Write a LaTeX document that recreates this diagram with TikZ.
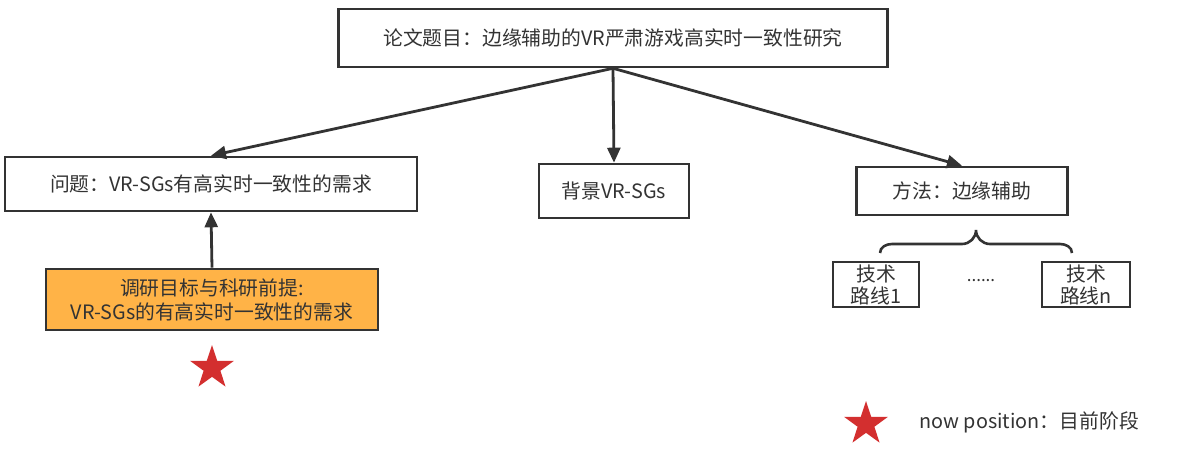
\documentclass[tikz,border=0pt]{standalone}
\usepackage{fontspec}
\setmainfont{Noto Sans CJK SC}
\usepackage{tikz}
\usetikzlibrary{positioning, arrows.meta, shapes.geometric}
\usepackage{xcolor}
\definecolor{ink}{HTML}{333333}
\definecolor{goalfill}{HTML}{FFB347}
\definecolor{starred}{HTML}{D32F2F}

\begin{document}
\begin{tikzpicture}[x=1pt, y=-1pt,
  box/.style={draw=ink, line width=2.6pt, fill=white, text=ink, inner sep=0pt,
              align=center, font=\fontsize{19.8}{23}\selectfont},
  arr/.style={-{Triangle[length=15pt,width=13pt]}, draw=ink, fill=ink, line width=2.8pt},
  mark star/.style={star, star points=5, star point ratio=2.6, fill=starred,
                    draw=none, minimum size=46pt, inner sep=0pt}]
\useasboundingbox (0,0) rectangle (1187,457);

% Top
\node[box, minimum width=549, minimum height=58] (title) at (613, 38) {论文题目：边缘辅助的VR严肃游戏高实时一致性研究};

% Second row
\node[box, minimum width=412, minimum height=54] (prob) at (211, 184) {问题：VR-SGs有高实时一致性的需求};
\node[box, minimum width=150, minimum height=54] (bg) at (614, 191) {背景VR-SGs};
\node[box, minimum width=211, minimum height=48] (meth) at (962, 191) {方法：边缘辅助};
\draw[arr] (title.south) -- (prob.north);
\draw[arr] (title.south) -- (bg.north);
\draw[arr] (title.south) -- (meth.north);

% Current stage
\node[box, fill=goalfill, minimum width=332, minimum height=61, font=\fontsize{19.8}{24}\selectfont] (goal) at (212, 299.5) {调研目标与科研前提:\\VR-SGs的有高实时一致性的需求};
\draw[arr] (goal.north) -- (prob.south);
\node[mark star] (star1) at (212, 368) {};

% Technical routes
\node[box, minimum width=86, minimum height=45, font=\fontsize{19.8}{22}\selectfont] (tr1) at (876, 284.5) {技术\\路线1};
\node[box, minimum width=88, minimum height=45, font=\fontsize{19.8}{22}\selectfont] (trn) at (1086, 284.5) {技术\\路线n};
\node[text=ink, font=\fontsize{17}{20}\selectfont] (dots) at (981, 281) {......};
\draw[draw=ink, line width=2.6pt]
  (880,253) to[out=90, in=180] (892,244) -- (962,244)
  to[out=0, in=-90] (976,230) to[out=-90, in=180] (990,244) -- (1060,244)
  to[out=0, in=90] (1072,253);

% Legend
\node[mark star] (star2) at (866, 424) {};
\node[anchor=west, text=ink, font=\fontsize{19.8}{23}\selectfont] (legend) at (916, 422) {now position：目前阶段};
\end{tikzpicture}
\end{document}
